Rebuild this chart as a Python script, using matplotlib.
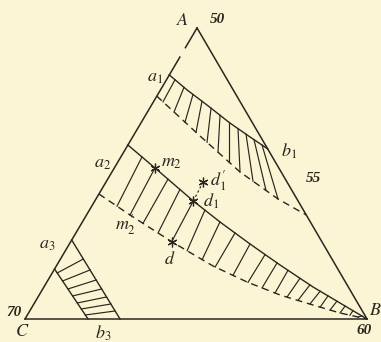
import matplotlib.pyplot as plt
import numpy as np

plt.rcParams['mathtext.fontset'] = 'stix'

paper = '#fbf5d6'
ink = '#2b261d'

# triangle vertices (base CB = 100 units)
A = (50.3, 85.1)
B = (100.0, 0.0)
C = (0.0, 0.0)

# upper field a1-b1: solid upper boundary, dashed lower boundary
f1_up_x = [42.2, 47.4, 53.2, 59.9, 65.8, 71.0]
f1_up_y = [71.35, 66.96, 62.57, 57.31, 53.22, 49.71]
f1_lo_x = [38.5, 51.17, 62.87, 73.98, 82.24]
f1_lo_y = [65.2, 53.51, 42.98, 35.09, 30.41]
f1_hatch_top = [43.86, 46.49, 49.12, 51.75, 54.39, 57.02, 59.65, 62.28, 64.62, 66.96, 69.30]
f1_hatch_bot = [40.35, 43.57, 46.78, 50.0, 53.22, 56.43, 59.65, 62.87, 66.67, 70.47, 73.98]

# middle field a2-B
f2_up_x = [30.07, 38.01, 49.21, 57.02, 65.79, 74.56, 84.21, 93.57, 100.0]
f2_up_y = [50.88, 44.15, 34.5, 28.36, 21.93, 15.79, 9.36, 3.80, 0.0]
f2_lo_x = [21.6, 30.70, 42.89, 54.97, 64.91, 74.56, 84.21, 92.11, 100.0]
f2_lo_y = [36.55, 30.41, 22.6, 15.50, 10.82, 7.02, 4.09, 1.75, 0.0]
f2_hatch_bot = [26.9, 30.7, 34.5, 38.9, 47.4, 51.8, 55.6, 60.8, 65.2, 69.3, 73.1,
                76.6, 79.8, 83.3, 86.3, 89.2, 92.1, 95.0, 97.4]
f2_hatch_top = [34.2, 38.0, 41.8, 45.3, 52.6, 57.0, 61.4, 65.8, 70.2, 73.7, 76.9,
                80.4, 83.3, 86.3, 88.6, 91.2, 93.6, 95.9, 98.5]

# points on the middle field
m2 = (38.01, 44.15)
d = (42.89, 22.6)
d1 = (49.21, 34.5)
d1p = (52.13, 40.15)

# lower-left field a3-b3
f3_left_x = [8.64, 18.42]
f3_left_y = [14.62, 0.0]
f3_right_x = [13.65, 27.78]
f3_right_y = [23.1, 0.0]
f3_hatch_left_y = [13.45, 11.11, 8.77, 6.73, 4.68, 2.92, 1.17]
f3_hatch_right_y = [17.54, 14.33, 11.40, 8.77, 6.43, 4.39, 2.34]

fig = plt.figure(figsize=(3.81, 3.42), dpi=100, facecolor=paper)
ax = fig.add_axes([0, 0, 1, 1])
ax.set_facecolor(paper)
ax.set_xlim(-7.31, 104.09)
ax.set_ylim(-6.73, 93.27)
ax.axis('off')

lw = 1.1
dash = (0, (5, 3.5))

# triangle sides
ax.plot([C[0], B[0]], [C[1], B[1]], color=ink, lw=lw)
ax.plot([A[0], B[0]], [A[1], B[1]], color=ink, lw=lw)
a1 = (f1_up_x[0], f1_up_y[0])
ax.plot([C[0], a1[0]], [C[1], a1[1]], color=ink, lw=lw)
# broken piece of AC between a1 and A
for t0, t1 in [(0.0, 0.42), (0.62, 1.0)]:
    ax.plot([A[0] + t0 * (a1[0] - A[0]), A[0] + t1 * (a1[0] - A[0])],
            [A[1] + t0 * (a1[1] - A[1]), A[1] + t1 * (a1[1] - A[1])],
            color=ink, lw=lw)

# field 1
ax.plot(f1_up_x, f1_up_y, color=ink, lw=1.0)
ax.plot(f1_lo_x, f1_lo_y, color=ink, lw=1.0, linestyle=dash)
for xt, xb in zip(f1_hatch_top, f1_hatch_bot):
    ax.plot([xt, xb], [np.interp(xt, f1_up_x, f1_up_y), np.interp(xb, f1_lo_x, f1_lo_y)],
            color=ink, lw=0.85)

# field 2
ax.plot(f2_up_x, f2_up_y, color=ink, lw=1.0)
ax.plot(f2_lo_x, f2_lo_y, color=ink, lw=1.0, linestyle=dash)
for xb, xt in zip(f2_hatch_bot, f2_hatch_top):
    ax.plot([xb, xt], [np.interp(xb, f2_lo_x, f2_lo_y), np.interp(xt, f2_up_x, f2_up_y)],
            color=ink, lw=0.85)
ax.plot([d[0], d1[0]], [d[1], d1[1]], color=ink, lw=0.85)
ax.plot([d1[0], d1p[0]], [d1[1], d1p[1]], color=ink, lw=0.85, linestyle=(0, (2, 2)))

# field 3
ax.plot(f3_left_x, f3_left_y, color=ink, lw=1.0)
ax.plot(f3_right_x, f3_right_y, color=ink, lw=1.0)
for yl, yr in zip(f3_hatch_left_y, f3_hatch_right_y):
    xl = np.interp(yl, f3_left_y[::-1], f3_left_x[::-1])
    xr = np.interp(yr, f3_right_y[::-1], f3_right_x[::-1])
    ax.plot([xl, xr], [yl, yr], color=ink, lw=0.85)

# star points
for p in [m2, d, d1, d1p]:
    ax.plot(p[0], p[1], marker=(6, 2, 0), markersize=7, color=ink, mew=0.9)

# lettering
lab = dict(color=ink, ha='center', va='center', fontsize=13)
num = dict(color=ink, ha='center', va='center', fontsize=11, family='Liberation Serif',
           style='italic', weight='bold')
ax.text(46.2, 87.4, '$A$', **lab)
ax.text(56.3, 87.6, '50', **num)
ax.text(38.0, 70.8, '$a_1$', **lab)
ax.text(77.2, 49.1, '$b_1$', **lab)
ax.text(84.2, 41.2, '55', **num)
ax.text(22.6, 45.6, '$a_2$', **lab)
ax.text(42.9, 45.9, '$m_2$', **lab)
ax.text(56.5, 40.4, "$d_1'$", **lab)
ax.text(54.5, 34.4, '$d_1$', **lab)
ax.text(42.4, 17.6, '$d$', **lab)
ax.text(29.3, 27.6, "$m_2'$", **lab)
ax.text(6.5, 21.9, '$a_3$', **lab)
ax.text(-3.2, 2.0, '70', **num)
ax.text(-0.9, -3.6, '$C$', **lab)
ax.text(22.8, -4.2, '$b_3$', **lab)
ax.text(102.4, 2.6, '$B$', **lab)
ax.text(99.2, -3.4, '60', **num)

fig.savefig('out.png', dpi=100, facecolor=paper)
